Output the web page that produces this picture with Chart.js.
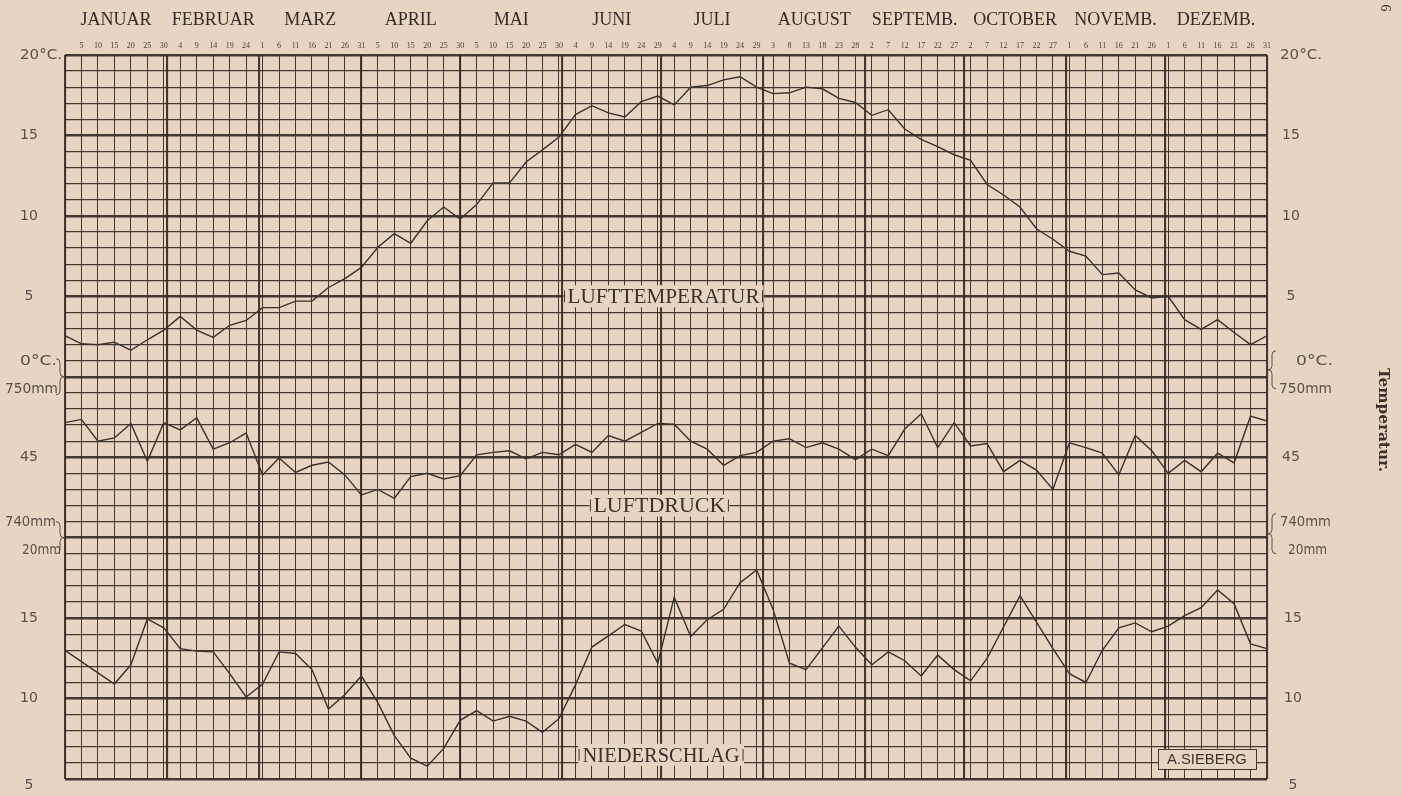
<!DOCTYPE html>
<html lang="de">
<head>
<meta charset="utf-8">
<title>Lufttemperatur, Luftdruck, Niederschlag</title>
<script src="https://cdn.jsdelivr.net/npm/chart.js@4.4.1/dist/chart.umd.min.js"></script>
<style>
  html, body { margin: 0; padding: 0; background: #e8d4c2; }
  canvas { display: block; }
</style>
</head>
<body>
<canvas id="chart" width="1402" height="796"></canvas>
<script>
// Month names along the top and their lengths in days
const months = ['JANUAR', 'FEBRUAR', 'MÄRZ', 'APRIL', 'MAI', 'JUNI', 'JULI', 'AUGUST', 'SEPTEMB.', 'OCTOBER', 'NOVEMB.', 'DEZEMB.'];
const monthDays = [31, 28, 31, 30, 31, 30, 31, 31, 30, 31, 30, 31];

// Closing day of each of the 73 pentads (5-day periods)
const pentadDays = [
  5, 10, 15, 20, 25, 30,
  4, 9, 14, 19, 24,
  1, 6, 11, 16, 21, 26, 31,
  5, 10, 15, 20, 25, 30,
  5, 10, 15, 20, 25, 30,
  4, 9, 14, 19, 24, 29,
  4, 9, 14, 19, 24, 29,
  3, 8, 13, 18, 23, 28,
  2, 7, 12, 17, 22, 27,
  2, 7, 12, 17, 22, 27,
  1, 6, 11, 16, 21, 26,
  1, 6, 11, 16, 21, 26, 31
];

// Pentad means, one value per pentad boundary (Jan 1 ... Dec 31)
const temperature = [
  2.55, 2.05, 2.0, 2.15, 1.65, 2.3, 2.9, 3.75, 2.9, 2.45,
  3.2, 3.5, 4.3, 4.3, 4.7, 4.7, 5.55, 6.1, 6.8, 8.05,
  8.9, 8.3, 9.7, 10.55, 9.8, 10.7, 12.05, 12.05, 13.35, 14.1,
  14.9, 16.3, 16.85, 16.4, 16.15, 17.1, 17.45, 16.9, 18.0, 18.1,
  18.45, 18.65, 18.0, 17.6, 17.65, 18.0, 17.9, 17.3, 17.05, 16.25,
  16.6, 15.4, 14.75, 14.3, 13.8, 13.45, 11.95, 11.3, 10.55, 9.2,
  8.55, 7.8, 7.5, 6.35, 6.45, 5.4, 4.9, 5.0, 3.55, 2.95,
  3.55, 2.75, 2.0, 2.55
];
const pressure = [
  747.15, 747.35, 746.0, 746.2, 747.1, 744.75, 747.15, 746.7, 747.45, 745.5,
  745.9, 746.5, 743.9, 744.95, 744.05, 744.5, 744.7, 743.9, 742.65, 743.0,
  742.45, 743.8, 744.0, 743.65, 743.85, 745.15, 745.3, 745.4, 744.9, 745.3,
  745.15, 745.8, 745.3, 746.35, 746.0, 746.55, 747.1, 747.05, 746.0, 745.5,
  744.5, 745.1, 745.3, 746.0, 746.15, 745.6, 745.9, 745.5, 744.85, 745.5,
  745.1, 746.75, 747.7, 745.6, 747.15, 745.7, 745.85, 744.1, 744.8, 744.2,
  743.0, 745.9, 745.6, 745.25, 743.9, 746.35, 745.4, 744.0, 744.8, 744.1,
  745.25, 744.65, 747.55, 747.25
];
const precipitation = [
  13.0, 12.3, 11.6, 10.9, 12.1, 14.95, 14.4, 13.1, 12.95, 12.9,
  11.55, 10.1, 10.9, 12.9, 12.8, 11.8, 9.35, 10.25, 11.4, 9.75,
  7.7, 6.3, 5.8, 6.9, 8.65, 9.25, 8.6, 8.9, 8.6, 7.9,
  8.75, 10.85, 13.2, 13.9, 14.6, 14.2, 12.2, 16.3, 13.85, 14.9,
  15.55, 17.2, 18.0, 15.55, 12.2, 11.8, 13.15, 14.5, 13.2, 12.1,
  12.9, 12.35, 11.4, 12.7, 11.8, 11.1, 12.5, 14.45, 16.4, 14.75,
  13.1, 11.55, 11.0, 13.0, 14.4, 14.7, 14.15, 14.5, 15.15, 15.65,
  16.75, 15.9, 13.4, 13.1
];

// Scale labels at both sides of the sheet
const tempLabels = ['20°C.', '15', '10', '5', '0°C.'];
const tempLabelValues = [20, 15, 10, 5, 0];
const pressureLabels = ['750mm', '45', '740mm'];
const pressureLabelValues = [750, 745, 740];
const rainLabels = ['20mm', '15', '10', '5'];
const rainLabelValues = [20, 15, 10, 5];

const PAPER = '#e8d4c2';
const INK = '#3b312c';
const GRID = 'rgba(50,40,34,0.9)';
const LABEL = '#5a514b';

// Month boundaries and month centres, in pentad units
const monthStarts = [];
let dayCount = 0;
monthDays.forEach(d => { monthStarts.push(dayCount / 5); dayCount += d; });
const monthEdges = monthStarts.slice(1);
const monthCentres = monthDays.map((d, i) => monthStarts[i] + d / 10);

const toPoints = arr => arr.map((v, i) => ({ x: i, y: v }));

// Text squeezed or stretched to a given width, centred on (cx, cy)
function drawFitted(c, text, cx, cy, width, font) {
  c.font = font;
  const w = c.measureText(text).width;
  c.save();
  c.translate(cx, cy);
  c.scale(width / w, 1);
  c.textAlign = 'center';
  c.textBaseline = 'middle';
  c.fillText(text, 0, 0);
  c.restore();
}

function brace(c, x, yc, half, dir) {
  const w = 4 * dir;
  c.beginPath();
  c.moveTo(x - w, yc - half);
  c.quadraticCurveTo(x, yc - half, x, yc - half + 4);
  c.lineTo(x, yc - 4);
  c.quadraticCurveTo(x, yc, x + w, yc);
  c.quadraticCurveTo(x, yc, x, yc + 4);
  c.lineTo(x, yc + half - 4);
  c.quadraticCurveTo(x, yc + half, x - w, yc + half);
  c.stroke();
}

const paperPlugin = {
  id: 'paper',
  beforeDraw(chart) {
    const c = chart.ctx;
    c.save();
    c.fillStyle = PAPER;
    c.fillRect(0, 0, chart.width, chart.height);
    c.restore();
  }
};

// widths and left edges of the unit labels on each side
const unitLeft = { '20°C.': [20, 1280], '0°C.': [20, 1296], '750mm': [5, 1279], '740mm': [5, 1280], '20mm': [22, 1288] };
const unitWidth = { '20°C.': 42, '0°C.': 37, '750mm': 53, '740mm': 51, '20mm': 39 };

const sheetPlugin = {
  id: 'sheet',
  afterDraw(chart) {
    const c = chart.ctx;
    const { x, yT, yP, yR } = chart.scales;
    c.save();

    // --- side scales ---
    c.fillStyle = LABEL;
    const font = '14px "DejaVu Sans"';
    c.font = font;
    c.textBaseline = 'middle';
    const rows = [];
    tempLabels.forEach((t, i) => rows.push({ t, g: 'T', y: yT.getPixelForValue(tempLabelValues[i]) }));
    pressureLabels.forEach((t, i) => rows.push({ t, g: 'P', y: yP.getPixelForValue(pressureLabelValues[i]) }));
    rainLabels.forEach((t, i) => rows.push({ t, g: 'R', y: yR.getPixelForValue(rainLabelValues[i]) }));
    rows.forEach(r => {
      let dy = 0;
      if (r.t === '0°C.' || r.t === '740mm') dy = -15;
      if (r.t === '750mm' || r.t === '20mm') dy = 13;
      if (r.g === 'R' && r.t === '5') dy = 6;
      const y = r.y + dy;
      if (/^\d+$/.test(r.t)) {
        c.font = font;
        c.textAlign = 'center';
        c.fillText(r.t, 29, y);
        c.fillText(r.t, r.g === 'R' ? 1293 : 1291, y);
      } else {
        const w = unitWidth[r.t];
        const [lx, rx] = unitLeft[r.t];
        drawFitted(c, r.t, lx + w / 2, y, w, font);
        drawFitted(c, r.t, rx + w / 2, y, w, font);
      }
    });

    // braces joining the shared lines
    c.strokeStyle = LABEL;
    c.lineWidth = 1;
    const y0 = yT.getPixelForValue(0);
    const y740 = yP.getPixelForValue(740);
    brace(c, 60, y0, 18, 1);
    brace(c, 60, y740, 16, 1);
    brace(c, 1272, y0 - 7, 19, -1);
    brace(c, 1272, y740 - 4, 20, -1);

    // --- curve names on blanked panels ---
    const panels = [
      { t: 'LUFTTEMPERATUR', px: 36.35, y: yT.getPixelForValue(5), w: 200, tw: 192 },
      { t: 'LUFTDRUCK', px: 36.1, y: yP.getPixelForValue(742), w: 140, tw: 132 },
      { t: 'NIEDERSCHLAG', px: 36.2, y: yR.getPixelForValue(6.5), w: 166, tw: 157 }
    ];
    panels.forEach(p => {
      const cx = x.getPixelForValue(p.px);
      c.fillStyle = PAPER;
      c.fillRect(cx - p.w / 2, p.y - 11, p.w, 22);
      c.strokeStyle = GRID;
      c.lineWidth = 1;
      c.beginPath();
      c.moveTo(cx - p.w / 2 + 1, p.y - 6); c.lineTo(cx - p.w / 2 + 1, p.y + 6);
      c.moveTo(cx + p.w / 2 - 1, p.y - 6); c.lineTo(cx + p.w / 2 - 1, p.y + 6);
      c.stroke();
      c.fillStyle = INK;
      drawFitted(c, p.t, cx, p.y + 1, p.tw, '22px "Liberation Serif"');
    });

    // signature box
    const sx = x.getPixelForValue(69.35);
    const sy = yR.getPixelForValue(6.25);
    c.fillStyle = PAPER;
    c.fillRect(sx - 49, sy - 10, 98, 20);
    c.strokeStyle = GRID;
    c.lineWidth = 1;
    c.strokeRect(Math.round(sx - 49) + 0.5, Math.round(sy - 10) + 0.5, 98, 20);
    c.fillStyle = INK;
    drawFitted(c, 'A.SIEBERG', sx, sy + 1, 80, '15px "Liberation Sans"');

    // running head of the page
    c.fillStyle = INK;
    c.save();
    c.translate(1383, 420);
    c.rotate(Math.PI / 2);
    drawFitted(c, 'Temperatur.', 0, 0, 104, 'bold 14px "DejaVu Serif"');
    c.restore();
    c.save();
    c.translate(1385, 8);
    c.rotate(Math.PI / 2);
    c.font = '14px "Liberation Serif"';
    c.textAlign = 'center';
    c.textBaseline = 'middle';
    c.fillText('6', 0, 0);
    c.restore();

    c.restore();
  }
};

const lineStyle = {
  borderColor: INK,
  borderWidth: 1.4,
  pointRadius: 0,
  tension: 0,
  fill: false
};

new Chart(document.getElementById('chart'), {
  type: 'line',
  data: {
    datasets: [
      { label: 'Lufttemperatur', data: toPoints(temperature), yAxisID: 'yT', ...lineStyle },
      { label: 'Luftdruck', data: toPoints(pressure), yAxisID: 'yP', ...lineStyle },
      { label: 'Niederschlag', data: toPoints(precipitation), yAxisID: 'yR', ...lineStyle }
    ]
  },
  options: {
    responsive: false,
    animation: false,
    events: [],
    layout: { padding: { left: 65, right: 135, top: 11, bottom: 17 } },
    plugins: { legend: { display: false }, tooltip: { enabled: false } },
    scales: {
      x: {
        type: 'linear', position: 'top', min: 0, max: 73, weight: 1,
        afterBuildTicks: s => {
          const t = [];
          for (let i = 0; i <= 73; i++) t.push({ value: i });
          monthEdges.forEach(v => t.push({ value: v, month: true }));
          t.sort((a, b) => a.value - b.value);
          s.ticks = t;
        },
        afterFit: s => { s.height = 14; },
        grid: {
          drawTicks: false,
          color: GRID,
          lineWidth: ctx => (ctx.tick && (ctx.tick.month || ctx.tick.value === 0 || ctx.tick.value === 73)) ? 2.1 : 1
        },
        border: { display: false },
        ticks: {
          autoSkip: false, maxRotation: 0, minRotation: 0, padding: 4,
          color: '#4a403a',
          font: { family: '"Liberation Serif"', size: 8 },
          callback: (v, i, t) => (t[i].month || v === 0) ? '' : String(pentadDays[v - 1])
        }
      },
      xm: {
        type: 'linear', position: 'top', min: 0, max: 73, weight: 2,
        afterBuildTicks: s => { s.ticks = monthCentres.map(v => ({ value: v })); },
        afterFit: s => { s.height = 30; },
        grid: { display: false, drawTicks: false },
        border: { display: false },
        ticks: {
          autoSkip: false, maxRotation: 0, minRotation: 0, padding: 10,
          color: '#352c28',
          font: { family: '"Liberation Serif"', size: 18 },
          callback: (v, i) => months[i]
        }
      },
      yT: {
        type: 'linear', position: 'left', min: -25, max: 20,
        afterBuildTicks: s => {
          const t = [];
          for (let v = -25; v <= 20; v++) t.push({ value: v });
          s.ticks = t;
        },
        afterFit: s => { s.width = 0; },
        grid: {
          drawTicks: false,
          color: GRID,
          lineWidth: ctx => (ctx.tick && ctx.tick.value % 5 === 0) ? 2.5 : 1.2
        },
        border: { display: false },
        ticks: { display: false }
      },
      yP: { type: 'linear', display: false, min: 725, max: 770 },
      yR: { type: 'linear', display: false, min: 5, max: 50 }
    }
  },
  plugins: [paperPlugin, sheetPlugin]
});
</script>
</body>
</html>
